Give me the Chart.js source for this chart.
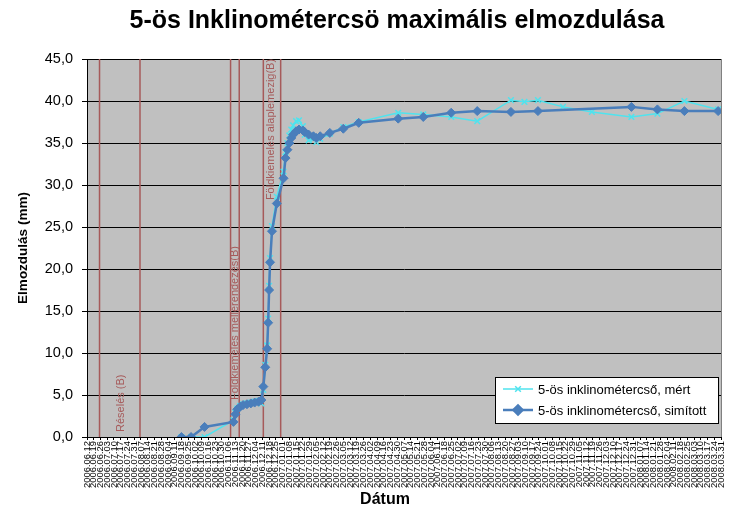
<!DOCTYPE html>
<html>
<head>
<meta charset="utf-8">
<script src="https://cdn.jsdelivr.net/npm/chart.js"></script>
<style>
  html, body { margin: 0; padding: 0; background: #fff; }
  #wrap { width: 749px; height: 517px; }
</style>
</head>
<body>
<div id="wrap"><canvas id="chart" width="749" height="517"></canvas></div>
<script>
// Tick labels on the date axis (weekly)
const xLabels = [
    '2006.06.12', '2006.06.19', '2006.06.26', '2006.07.03', '2006.07.10', '2006.07.17', '2006.07.24', '2006.07.31',
    '2006.08.07', '2006.08.14', '2006.08.21', '2006.08.28', '2006.09.04', '2006.09.11', '2006.09.18', '2006.09.25',
    '2006.10.02', '2006.10.09', '2006.10.16', '2006.10.23', '2006.10.30', '2006.11.06', '2006.11.13', '2006.11.20',
    '2006.11.27', '2006.12.04', '2006.12.11', '2006.12.18', '2006.12.25', '2007.01.01', '2007.01.08', '2007.01.15',
    '2007.01.22', '2007.01.29', '2007.02.05', '2007.02.12', '2007.02.19', '2007.02.26', '2007.03.05', '2007.03.12',
    '2007.03.19', '2007.03.26', '2007.04.02', '2007.04.09', '2007.04.16', '2007.04.23', '2007.04.30', '2007.05.07',
    '2007.05.14', '2007.05.21', '2007.05.28', '2007.06.04', '2007.06.11', '2007.06.18', '2007.06.25', '2007.07.02',
    '2007.07.09', '2007.07.16', '2007.07.23', '2007.07.30', '2007.08.06', '2007.08.13', '2007.08.20', '2007.08.27',
    '2007.09.03', '2007.09.10', '2007.09.17', '2007.09.24', '2007.10.01', '2007.10.08', '2007.10.15', '2007.10.22',
    '2007.10.29', '2007.11.05', '2007.11.12', '2007.11.19', '2007.11.26', '2007.12.03', '2007.12.10', '2007.12.17',
    '2007.12.24', '2007.12.31', '2008.01.07', '2008.01.14', '2008.01.21', '2008.01.28', '2008.02.04', '2008.02.11',
    '2008.02.18', '2008.02.25', '2008.03.03', '2008.03.10', '2008.03.17', '2008.03.24', '2008.03.31'
];

// Smoothed series ("simított")
const smoothDates = [
    '2006.09.18', '2006.09.28', '2006.10.12', '2006.11.11', '2006.11.13', '2006.11.15', '2006.11.18', '2006.11.21',
    '2006.11.25', '2006.11.29', '2006.12.03', '2006.12.07', '2006.12.10', '2006.12.12', '2006.12.14', '2006.12.16',
    '2006.12.17', '2006.12.18', '2006.12.19', '2006.12.21', '2006.12.26', '2007.01.02', '2007.01.04', '2007.01.06',
    '2007.01.08', '2007.01.10', '2007.01.12', '2007.01.15', '2007.01.18', '2007.01.22', '2007.01.24', '2007.01.28',
    '2007.02.02', '2007.02.05', '2007.02.09', '2007.02.19', '2007.03.05', '2007.03.21', '2007.05.01', '2007.05.27',
    '2007.06.25', '2007.07.22', '2007.08.26', '2007.09.23', '2007.12.29', '2008.01.25', '2008.02.22', '2008.03.28'
];
const smoothValues = [
    0, 0, 1.2, 1.8, 2.7, 3.3, 3.6, 3.8,
    3.9, 4.0, 4.1, 4.2, 4.4, 6.0, 8.3, 10.5,
    13.6, 17.5, 20.8, 24.5, 27.8, 30.8, 33.2, 34.2,
    35.0, 35.6, 36.0, 36.4, 36.6, 36.5, 36.3, 36.0,
    35.8, 35.6, 35.8, 36.2, 36.7, 37.4, 37.9, 38.1,
    38.6, 38.8, 38.7, 38.8, 39.3, 39.0, 38.8, 38.8
];

// Measured series ("mért")
const measDates = [
    '2006.09.18', '2006.09.28', '2006.10.12', '2006.11.11', '2006.11.13', '2006.11.15', '2006.11.18', '2006.11.21',
    '2006.11.25', '2006.11.29', '2006.12.03', '2006.12.07', '2006.12.10', '2006.12.12', '2006.12.14', '2006.12.16',
    '2006.12.17', '2006.12.18', '2006.12.19', '2006.12.21', '2006.12.26', '2007.01.02', '2007.01.04', '2007.01.06',
    '2007.01.08', '2007.01.10', '2007.01.12', '2007.01.15', '2007.01.18', '2007.01.22', '2007.01.24', '2007.01.28',
    '2007.02.02', '2007.02.05', '2007.02.09', '2007.02.19', '2007.03.05', '2007.03.21', '2007.05.01', '2007.05.27',
    '2007.06.25', '2007.07.22', '2007.08.26', '2007.09.09', '2007.09.23', '2007.10.19', '2007.11.18', '2007.12.29',
    '2008.01.25', '2008.02.22', '2008.03.28'
];
const measValues = [
    0, 0, 0, 2.0, 2.9, 3.4, 3.7, 3.9,
    4.0, 4.1, 4.2, 4.3, 4.0, 5.6, 8.6, 10.9,
    14.1, 18.0, 21.3, 25.1, 28.6, 31.6, 33.9, 35.0,
    35.9, 36.6, 37.1, 37.6, 37.7, 37.0, 36.0, 35.3,
    35.5, 35.1, 35.5, 36.1, 36.9, 37.5, 38.6, 38.4,
    38.1, 37.6, 40.1, 39.9, 40.1, 39.3, 38.7, 38.1,
    38.5, 40.0, 39.0
];

// Construction events (vertical lines)
const eventDates = ['2006.06.25', '2006.08.06', '2006.11.08', '2006.11.17', '2006.12.12', '2006.12.30'];
const eventTexts = ['Réselés (B)', 'Földkiemelés mellérendezés(B)', 'Földkiemelés alaplemezig(B)'];
const eventTextDates = ['2006.07.17', '2006.11.13', '2006.12.20'];
const eventTextBase = [0.6, 4.4, 28.2];

const yTicks = [0, 5, 10, 15, 20, 25, 30, 35, 40, 45];

const FONT = "'Liberation Sans', Arial, sans-serif";
const LINE_RED = '#a65a5a';
const SMOOTH_COLOR = '#4a7ebb';
const MEAS_COLOR = '#4fe3ee';

function toDay(str) {
    const [y, m, d] = str.split('.').map(Number);
    const [y0, m0, d0] = xLabels[0].split('.').map(Number);
    return (Date.UTC(y, m - 1, d) - Date.UTC(y0, m0 - 1, d0)) / 86400000;
}

const chartDecor = {
    id: 'chartDecor',
    beforeDraw(chart) {
        const { ctx, chartArea: a } = chart;
        ctx.save();
        ctx.fillStyle = '#c0c0c0';
        ctx.fillRect(a.left, a.top, a.right - a.left, a.bottom - a.top);
        ctx.restore();
    },
    beforeDatasetsDraw(chart) {
        const { ctx, chartArea: a, scales } = chart;
        ctx.save();
        // right border of the plot area
        ctx.strokeStyle = '#808080';
        ctx.lineWidth = 1;
        ctx.beginPath();
        ctx.moveTo(a.right + 0.5, a.top);
        ctx.lineTo(a.right + 0.5, a.bottom);
        ctx.stroke();

        ctx.strokeStyle = LINE_RED;
        ctx.lineWidth = 1.5;
        eventDates.forEach(d => {
            const x = scales.x.getPixelForValue(toDay(d));
            ctx.beginPath();
            ctx.moveTo(x, a.top);
            ctx.lineTo(x, a.bottom);
            ctx.stroke();
        });

        ctx.fillStyle = LINE_RED;
        ctx.font = '11px ' + FONT;
        ctx.textAlign = 'left';
        ctx.textBaseline = 'middle';
        eventTexts.forEach((t, i) => {
            const x = scales.x.getPixelForValue(toDay(eventTextDates[i]));
            const y = scales.y.getPixelForValue(eventTextBase[i]);
            ctx.save();
            ctx.translate(x, y);
            ctx.rotate(-Math.PI / 2);
            ctx.fillText(t, 0, 0);
            ctx.restore();
        });
        ctx.restore();
    },
    afterDraw(chart) {
        const { ctx } = chart;
        ctx.save();
        // title
        ctx.fillStyle = '#000';
        ctx.font = 'bold 25px ' + FONT;
        ctx.textAlign = 'center';
        ctx.textBaseline = 'middle';
        ctx.fillText('5-ös Inklinométercsö maximális elmozdulása', 397, 21);

        // x axis title
        ctx.font = 'bold 16px ' + FONT;
        ctx.fillText('Dátum', 385, 500);

        // legend
        const lx = 495, ly = 377, lw = 223, lh = 46;
        ctx.fillStyle = '#fff';
        ctx.fillRect(lx, ly, lw, lh);
        ctx.strokeStyle = '#000';
        ctx.lineWidth = 1;
        ctx.strokeRect(lx + 0.5, ly + 0.5, lw, lh);

        const items = [
            { text: '5-ös inklinométercső, mért', ds: 1 },
            { text: '5-ös inklinométercső, simított', ds: 0 }
        ];
        ctx.font = '13px ' + FONT;
        ctx.textAlign = 'left';
        items.forEach((it, i) => {
            const ds = chart.data.datasets[it.ds];
            const y = ly + 12 + i * 21;
            ctx.strokeStyle = ds.borderColor;
            ctx.lineWidth = ds.borderWidth;
            ctx.beginPath();
            ctx.moveTo(lx + 8, y);
            ctx.lineTo(lx + 38, y);
            ctx.stroke();
            Chart.helpers.drawPoint(ctx, {
                pointStyle: ds.pointStyle,
                radius: ds.pointRadius,
                borderWidth: ds.pointBorderWidth
            }, lx + 23, y);
            if (ds.pointStyle === 'rectRot') {
                ctx.fillStyle = ds.pointBackgroundColor;
                ctx.fill();
            }
            ctx.fillStyle = '#000';
            ctx.fillText(it.text, lx + 43, y + 1);
        });
        ctx.restore();
    }
};

const smoothData = smoothDates.map((d, i) => ({ x: toDay(d), y: smoothValues[i] }));
const measData = measDates.map((d, i) => ({ x: toDay(d), y: measValues[i] }));

new Chart(document.getElementById('chart'), {
    type: 'line',
    data: {
        datasets: [
            {
                label: '5-ös inklinométercső, simított',
                data: smoothData,
                borderColor: SMOOTH_COLOR,
                backgroundColor: SMOOTH_COLOR,
                borderWidth: 2.5,
                pointStyle: 'rectRot',
                pointRadius: 4.5,
                pointBorderWidth: 1,
                pointBackgroundColor: SMOOTH_COLOR,
                pointBorderColor: SMOOTH_COLOR,
                tension: 0
            },
            {
                label: '5-ös inklinométercső, mért',
                data: measData,
                borderColor: MEAS_COLOR,
                backgroundColor: MEAS_COLOR,
                borderWidth: 1.5,
                pointStyle: 'crossRot',
                pointRadius: 4,
                pointBorderWidth: 1.5,
                pointBackgroundColor: MEAS_COLOR,
                pointBorderColor: MEAS_COLOR,
                tension: 0
            }
        ]
    },
    options: {
        responsive: false,
        animation: false,
        layout: { padding: { top: 59, right: 28, left: 0, bottom: 0 } },
        plugins: {
            legend: { display: false },
            tooltip: { enabled: false },
            title: { display: false }
        },
        scales: {
            x: {
                type: 'linear',
                min: toDay(xLabels[0]),
                max: toDay(xLabels[xLabels.length - 1]),
                afterBuildTicks: scale => {
                    scale.ticks = xLabels.map(l => ({ value: toDay(l) }));
                },
                afterFit: scale => { scale.height = 80; },
                ticks: {
                    autoSkip: false,
                    minRotation: 90,
                    maxRotation: 90,
                    padding: 1,
                    color: '#000',
                    font: { family: FONT, size: 9.4 },
                    callback: (value, index) => xLabels[index]
                },
                grid: {
                    drawOnChartArea: false,
                    drawTicks: true,
                    tickLength: 3,
                    color: '#000'
                },
                border: { display: true, color: '#000', width: 1 }
            },
            y: {
                min: 0,
                max: 45,
                afterBuildTicks: scale => {
                    scale.ticks = yTicks.map(v => ({ value: v }));
                },
                afterFit: scale => { scale.width = 87; },
                ticks: {
                    padding: 9,
                    color: '#000',
                    font: { family: FONT, size: 14.5 },
                    callback: v => v.toFixed(1).replace('.', ',')
                },
                grid: {
                    color: '#000',
                    lineWidth: 1,
                    drawTicks: true,
                    tickLength: 5
                },
                border: { display: true, color: '#000', width: 1 },
                title: {
                    display: true,
                    text: 'Elmozdulás (mm)',
                    color: '#000',
                    font: { family: FONT, size: 13.5, weight: 'bold' },
                    padding: { top: 15, bottom: 0 }
                }
            }
        }
    },
    plugins: [chartDecor]
});
</script>
</body>
</html>
